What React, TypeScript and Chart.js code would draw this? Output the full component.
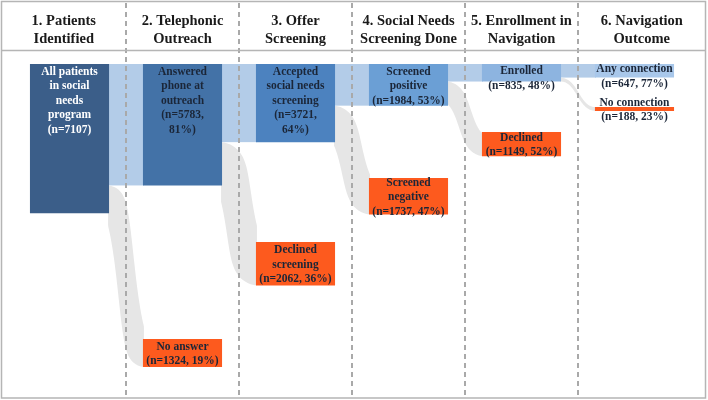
import React, { useEffect, useRef } from "react";
import { Chart, registerables } from "chart.js";

Chart.register(...registerables);

// ---------------- data ----------------
const stageTitles: string[][] = [
  ["1. Patients", "Identified"],
  ["2. Telephonic", "Outreach"],
  ["3. Offer", "Screening"],
  ["4. Social Needs", "Screening Done"],
  ["5. Enrollment in", "Navigation"],
  ["6. Navigation", "Outcome"],
];
const retainedNames: string[][] = [
  ["All patients", "in social", "needs", "program"],
  ["Answered", "phone at", "outreach"],
  ["Accepted", "social needs", "screening"],
  ["Screened", "positive"],
  ["Enrolled"],
  ["Any connection"],
];
const retainedCounts: number[] = [7107, 5783, 3721, 1984, 835, 647];
const retainedPct: (number | null)[] = [null, 81, 64, 53, 48, 77];

const droppedNames: (string[] | null)[] = [
  null,
  ["No answer"],
  ["Declined", "screening"],
  ["Screened", "negative"],
  ["Declined"],
  ["No connection"],
];
const droppedCounts: (number | null)[] = [null, 1324, 2062, 1737, 1149, 188];
const droppedPct: (number | null)[] = [null, 19, 36, 47, 52, 23];

// ---------------- layout & style ----------------
const Y_MAX = 16000;
// vertical placement (in patient units from the top) of each drop-off node
const DROP_START: (number | null)[] = [null, 13100, 8480, 5430, 3240, 2050];
const RETAINED_COLORS = ["#3b5e89", "#4372a7", "#4c82bf", "#6b9fd5", "#8db4e0", "#a8c7ea"];
const DROPPED_COLOR = "#fd5a1e";
const LINK_BLUE = "#b3cce8";
const LINK_GRAY = "#e6e6e6";
const TEXT_DARK = "#1b2638";
const SERIF = "'Liberation Serif', 'Times New Roman', serif";

function nodeLines(names: string[], n: number, pct: number | null): string[] {
  if (pct == null) return [...names, `(n=${n})`];
  if (names.length >= 3) return [...names, `(n=${n},`, `${pct}%)`];
  return [...names, `(n=${n}, ${pct}%)`];
}

function ribbon(
  ctx: CanvasRenderingContext2D,
  x0: number, s0: number, s1: number,
  x1: number, t0: number, t1: number,
  color: string
) {
  const ya = (s0 + s1) / 2, yb = (t0 + t1) / 2;
  const ha = (s1 - s0) / 2, hb = (t1 - t0) / 2;
  const xm = (x0 + x1) / 2;
  const N = 90;
  const sideA: { x: number; y: number }[] = [];
  const sideB: { x: number; y: number }[] = [];
  for (let k = 0; k <= N; k++) {
    const t = k / N, u = 1 - t;
    const px = u * u * u * x0 + 3 * u * u * t * xm + 3 * u * t * t * xm + t * t * t * x1;
    const py = u * u * u * ya + 3 * u * u * t * ya + 3 * u * t * t * yb + t * t * t * yb;
    const dx = 3 * u * u * (xm - x0) + 3 * t * t * (x1 - xm);
    const dy = 6 * u * t * (yb - ya);
    const len = Math.hypot(dx, dy) || 1;
    const nx = -dy / len, ny = dx / len;
    const h = (ha * u + hb * t) * (1 - 0.3 * Math.sin(Math.PI * t));
    const clampX = (v: number) => Math.max(x0, Math.min(x1, v));
    sideA.push({ x: clampX(px + nx * h), y: py + ny * h });
    sideB.push({ x: clampX(px - nx * h), y: py - ny * h });
  }
  ctx.save();
  ctx.fillStyle = color;
  ctx.beginPath();
  ctx.moveTo(sideB[0].x, sideB[0].y);
  for (const p of sideB) ctx.lineTo(p.x, p.y);
  for (let k = sideA.length - 1; k >= 0; k--) ctx.lineTo(sideA[k].x, sideA[k].y);
  ctx.closePath();
  ctx.fill();
  ctx.restore();
}

const sankeyPlugin = {
  id: "sankeyDecor",
  beforeDatasetsDraw(chart: any) {
    const ctx: CanvasRenderingContext2D = chart.ctx;
    const ys = chart.scales.y;
    const m0 = chart.getDatasetMeta(0).data;
    const m1 = chart.getDatasetMeta(1).data;
    for (let i = 0; i < retainedCounts.length - 1; i++) {
      const a = m0[i].getProps(["x", "width"], true);
      const b = m0[i + 1].getProps(["x", "width"], true);
      const x0 = a.x + a.width / 2;
      const x1 = b.x - b.width / 2;
      const yTop = ys.getPixelForValue(0);
      const yKeep = ys.getPixelForValue(retainedCounts[i + 1]);
      const ySrcBot = ys.getPixelForValue(retainedCounts[i]);
      ctx.fillStyle = LINK_BLUE;
      ctx.fillRect(x0 - 1, yTop, x1 - x0 + 2, yKeep - yTop);
      const d = m1[i + 1].getProps(["y", "base"], true);
      const tTop = Math.min(d.y, d.base), tBot = Math.max(d.y, d.base);
      ribbon(ctx, x0 - 1, yKeep, ySrcBot, x1 + 1, tTop, tBot, LINK_GRAY);
    }
    // dashed stage separators
    ctx.save();
    ctx.strokeStyle = "#a9a9a9";
    ctx.lineWidth = 2;
    ctx.setLineDash([5, 4]);
    for (let i = 0; i < m0.length - 1; i++) {
      const xb = Math.round((m0[i].x + m0[i + 1].x) / 2);
      ctx.beginPath();
      ctx.moveTo(xb, 3);
      ctx.lineTo(xb, 395);
      ctx.stroke();
    }
    ctx.restore();
  },
  afterDatasetsDraw(chart: any) {
    const ctx: CanvasRenderingContext2D = chart.ctx;
    const m0 = chart.getDatasetMeta(0).data;
    const m1 = chart.getDatasetMeta(1).data;
    ctx.save();
    ctx.font = `bold 11.5px ${SERIF}`;
    ctx.textAlign = "center";
    ctx.textBaseline = "middle";
    const LH = 14.4;
    for (let i = 0; i < retainedCounts.length; i++) {
      const el = m0[i].getProps(["x", "y", "base"], true);
      const top = Math.min(el.y, el.base), h = Math.abs(el.base - el.y);
      const lines = nodeLines(retainedNames[i], retainedCounts[i], retainedPct[i]);
      ctx.fillStyle = i === 0 ? "#ffffff" : TEXT_DARK;
      const first = top + Math.min(8, h / 2 - 1.5);
      lines.forEach((s, k) => ctx.fillText(s, el.x, first + k * LH));
    }
    for (let i = 1; i < droppedCounts.length; i++) {
      const v = droppedCounts[i];
      const names = droppedNames[i];
      if (v == null || names == null) continue;
      const el = m1[i].getProps(["x", "y", "base"], true);
      const c = (el.y + el.base) / 2;
      const lines = nodeLines(names, v, droppedPct[i]);
      ctx.fillStyle = TEXT_DARK;
      lines.forEach((s, k) => ctx.fillText(s, el.x, c + 1 + (k - (lines.length - 1) / 2) * LH));
    }
    // headers
    const W = chart.width, H = chart.height;
    const bounds = [1.5];
    for (let i = 0; i < m0.length - 1; i++) bounds.push((m0[i].x + m0[i + 1].x) / 2);
    bounds.push(W - 2.5);
    ctx.font = `bold 14.5px ${SERIF}`;
    ctx.fillStyle = "#1a1a1a";
    ctx.textBaseline = "alphabetic";
    stageTitles.forEach((t, i) => {
      const cx = (bounds[i] + bounds[i + 1]) / 2;
      t.forEach((s, k) => ctx.fillText(s, cx, 25 + k * 18));
    });
    // header separator + frame
    ctx.strokeStyle = "#b5b5b5";
    ctx.lineWidth = 1.5;
    ctx.beginPath();
    ctx.moveTo(1, 50.5);
    ctx.lineTo(W - 2, 50.5);
    ctx.stroke();
    ctx.strokeRect(1.5, 1.5, W - 4, H - 3.5);
    ctx.restore();
  },
};

export default function App() {
  const ref = useRef<HTMLCanvasElement | null>(null);
  useEffect(() => {
    document.body.style.margin = "0";
    if (!ref.current) return;
    const chart = new Chart(ref.current, {
      type: "bar",
      data: {
        labels: stageTitles.map((t) => t.join(" ")),
        datasets: [
          {
            label: "Retained",
            data: retainedCounts.map((v) => [0, v]) as any,
            backgroundColor: RETAINED_COLORS,
            barPercentage: 0.7,
            categoryPercentage: 1,
            grouped: false,
            borderWidth: 0,
          },
          {
            label: "Dropped",
            data: droppedCounts.map((v, i) =>
              v == null || DROP_START[i] == null ? null : [DROP_START[i] as number, (DROP_START[i] as number) + v]
            ) as any,
            backgroundColor: DROPPED_COLOR,
            barPercentage: 0.7,
            categoryPercentage: 1,
            grouped: false,
            borderWidth: 0,
          },
        ],
      },
      options: {
        responsive: false,
        animation: false,
        devicePixelRatio: 1,
        layout: { padding: { top: 64, left: 13, right: 17, bottom: 0 } },
        scales: {
          x: { display: false },
          y: { display: false, reverse: true, min: 0, max: Y_MAX },
        },
        plugins: { legend: { display: false }, tooltip: { enabled: false } },
      },
      plugins: [sankeyPlugin],
    });
    return () => chart.destroy();
  }, []);
  return <canvas ref={ref} width={708} height={400} style={{ display: "block", width: 708, height: 400 }} />;
}
